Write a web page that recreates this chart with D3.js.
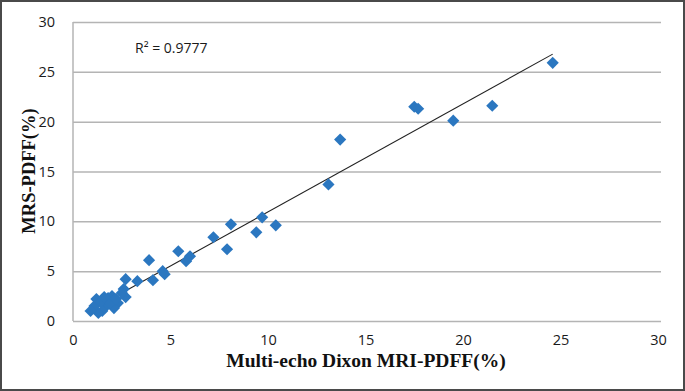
<!DOCTYPE html>
<html>
<head>
<meta charset="utf-8">
<script src="https://cdn.jsdelivr.net/npm/d3@7"></script>
<style>
  body { margin: 0; background: #fff; }
  svg { display: block; }
</style>
</head>
<body>
<div id="chart"></div>
<script>
// Data
let dixonPdff = [24.6, 21.5, 19.5, 17.5, 17.7, 13.7, 13.1, 10.4, 9.7, 9.4, 8.1, 7.9, 7.2, 6.0, 5.8, 5.4,
    4.7, 4.6, 4.1, 3.9, 3.3, 2.7, 2.6, 2.7, 2.5, 2.3, 2.1, 2.0, 1.8, 1.7, 1.5, 1.3, 1.2, 1.1, 0.9, 1.4, 1.9, 2.2, 1.6];
let mrsPdff = [25.9, 21.6, 20.1, 21.5, 21.3, 18.2, 13.7, 9.6, 10.4, 8.9, 9.7, 7.2, 8.4, 6.5, 6.0, 7.0,
    4.7, 5.0, 4.1, 6.1, 4.0, 4.2, 3.2, 2.4, 2.8, 1.8, 1.3, 2.5, 2.3, 1.5, 1.0, 0.8, 2.2, 1.5, 1.0, 1.9, 1.8, 2.2, 2.4];
let xTicks = [0, 5, 10, 15, 20, 25, 30];
let yTicks = [0, 5, 10, 15, 20, 25, 30];
let r2Label = "R\u00B2 = 0.9777";

let data = dixonPdff.map((x, i) => ({x: x, y: mrsPdff[i]}));

let svgWidth = 685;
let svgHeight = 391;

let margin = {top: 22, right: 27, bottom: 70, left: 73};
let width = svgWidth - margin.left - margin.right;
let height = svgHeight - margin.top - margin.bottom;

let svg = d3.select('#chart')
    .append('svg')
    .attr('width', svgWidth)
    .attr('height', svgHeight);

// outer frame
svg.append('rect')
    .attr('x', 1).attr('y', 1)
    .attr('width', svgWidth - 2).attr('height', svgHeight - 2)
    .attr('fill', 'none')
    .attr('stroke', '#4a4a4a')
    .attr('stroke-width', 2);

let chartGroup = svg.append('g')
    .attr('transform', `translate(${margin.left}, ${margin.top})`);

let xScale = d3.scaleLinear().domain([0, 30]).range([0, width]);
let yScale = d3.scaleLinear().domain([0, 30]).range([height, 0]);

// horizontal gridlines
let yAxis = chartGroup.append('g')
    .call(d3.axisLeft(yScale).tickValues(yTicks).tickSize(-(width + 3)).tickPadding(18));
yAxis.select('.domain').remove();
yAxis.selectAll('line').attr('stroke', '#b4b4b4').attr('stroke-width', 1.5);
yAxis.selectAll('text')
    .attr('font-family', '"Open Sans", sans-serif')
    .attr('font-size', 14.5)
    .attr('fill', '#1a1a1a');

// left axis line
chartGroup.append('line')
    .attr('x1', 0).attr('x2', 0)
    .attr('y1', 0).attr('y2', height)
    .attr('stroke', '#b4b4b4').attr('stroke-width', 1.5);

let xAxis = chartGroup.append('g')
    .attr('transform', `translate(0, ${height})`)
    .call(d3.axisBottom(xScale).tickValues(xTicks).tickSize(0).tickPadding(14));
xAxis.select('.domain').remove();
xAxis.selectAll('text')
    .attr('font-family', '"Open Sans", sans-serif')
    .attr('font-size', 14.5)
    .attr('fill', '#1a1a1a');

// least squares trendline over the data range
let mx = d3.mean(data, d => d.x);
let my = d3.mean(data, d => d.y);
let slope = d3.sum(data, d => (d.x - mx) * (d.y - my)) / d3.sum(data, d => (d.x - mx) ** 2);
let intercept = my - slope * mx;
let xExt = d3.extent(data, d => d.x);

chartGroup.append('line')
    .attr('x1', xScale(xExt[0])).attr('y1', yScale(slope * xExt[0] + intercept))
    .attr('x2', xScale(xExt[1])).attr('y2', yScale(slope * xExt[1] + intercept))
    .attr('stroke', '#222').attr('stroke-width', 1.1);

// diamond markers
chartGroup.selectAll('path.pt')
    .data(data)
    .enter()
    .append('path')
    .attr('class', 'pt')
    .attr('d', d3.symbol().type(d3.symbolSquare).size(74))
    .attr('transform', d => `translate(${xScale(d.x)}, ${yScale(d.y)}) rotate(45)`)
    .attr('fill', '#2b77c0');

// R squared label
chartGroup.append('text')
    .attr('x', 62).attr('y', 31)
    .attr('font-family', '"Open Sans", sans-serif')
    .attr('font-size', 14)
    .attr('fill', '#1a1a1a')
    .text(r2Label);

// axis titles
svg.append('text')
    .attr('x', 366).attr('y', 367)
    .attr('text-anchor', 'middle')
    .attr('font-family', '"Liberation Serif", serif')
    .attr('font-weight', 'bold')
    .attr('font-size', 19.5)
    .attr('fill', '#111')
    .text('Multi-echo Dixon MRI-PDFF(%)');

svg.append('text')
    .attr('transform', 'translate(35, 171) rotate(-90)')
    .attr('text-anchor', 'middle')
    .attr('font-family', '"Liberation Serif", serif')
    .attr('font-weight', 'bold')
    .attr('font-size', 18.5)
    .attr('fill', '#111')
    .text('MRS-PDFF(%)');
</script>
</body>
</html>
